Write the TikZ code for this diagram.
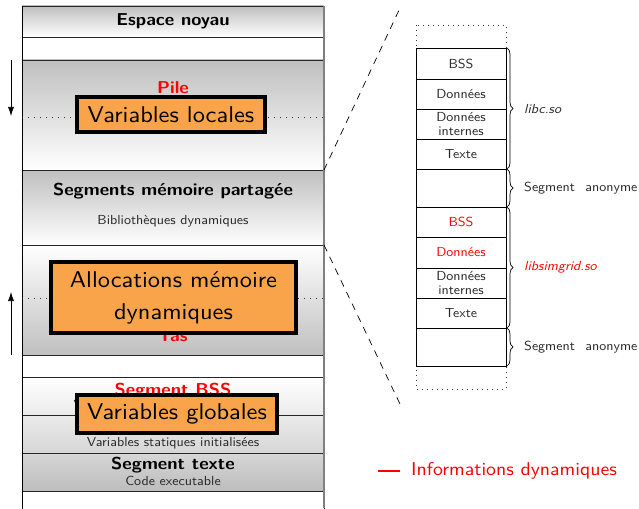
\documentclass[tikz,border=0pt]{standalone}
\usepackage{fontspec}
\usetikzlibrary{decorations.pathreplacing,arrows.meta}
\setmainfont{lmsans10}[Extension=.otf, UprightFont=*-regular, BoldFont=*-bold,
  ItalicFont=*-oblique, BoldItalicFont=*-boldoblique, FakeStretch=1.07]
\definecolor{memorange}{RGB}{249,164,74}
\newcommand{\fsbig}{\fontsize{17.2}{20}\selectfont\bfseries}
\newcommand{\fssmall}{\fontsize{13.1}{14}\selectfont}
\newcommand{\fsvar}{\fontsize{22.8}{32}\selectfont}
\newcommand{\fslegend}{\fontsize{18.5}{21}\selectfont}
\begin{document}
\begin{tikzpicture}[x=1pt,y=-1pt,
  seg/.style={draw=black!85, line width=0.8pt, minimum width=302pt, inner sep=0pt,
    outer sep=0pt, anchor=north west},
  bigtxt/.style={font=\fsbig, inner sep=0pt},
  smalltxt/.style={font=\fssmall, text=black!85, inner sep=0pt},
  orangebox/.style={draw=black, line width=3.3pt, fill=memorange, inner sep=0pt,
    font=\fsvar, align=center},
  rbox/.style={draw=black, line width=0.7pt, minimum width=90pt, inner sep=0pt,
    outer sep=0pt, anchor=north west, font=\fssmall, text=black!85, align=center},
  dotline/.style={black!80, line width=0.8pt, dash pattern=on 0.8pt off 5.2pt},
  zoomline/.style={black, line width=0.7pt, dash pattern=on 7pt off 6pt},
  bracedeco/.style={decorate, decoration={brace, amplitude=6pt}, line width=0.7pt},
  growarrow/.style={-{Latex[length=9pt,width=6pt]}, line width=0.7pt}]
\useasboundingbox (0,0) rectangle (639,508);

% address space, top to bottom
\node[seg, minimum height=31pt, top color=black!25, bottom color=white, font=\fsbig]
  (kernel) at (22,6) {Espace noyau};
\node[seg, minimum height=23pt] (gap1) at (22,37) {};
\node[seg, minimum height=110pt, top color=black!25, middle color=white, bottom color=white]
  (stack) at (22,60) {};
\node[seg, minimum height=75pt, top color=black!25, bottom color=white] (shared) at (22,170) {};
\node[seg, minimum height=110pt, top color=white, middle color=white, bottom color=black!25]
  (heap) at (22,245) {};
\node[seg, minimum height=22pt] (gap2) at (22,355) {};
\node[seg, minimum height=38pt, top color=white, bottom color=black!8] (bss) at (22,377) {};
\node[seg, minimum height=38pt, top color=black!8, bottom color=black!16] (data) at (22,415) {};
\node[seg, minimum height=38pt, top color=black!16, bottom color=black!26] (text) at (22,453) {};
\node[seg, minimum height=22pt] (gap3) at (22,491) {};

% outer sides of the address space
\coordinate (leftbot) at (22,508);
\coordinate (rightbot) at (324,508);
\draw[black, line width=0.8pt] (kernel.north west) -- (leftbot);
\draw[black!50, line width=1.3pt] (kernel.north east) -- (rightbot);

% stack and heap limits
\coordinate (stackL) at (22,117);
\coordinate (stackR) at (324,117);
\coordinate (heapL) at (22,298);
\coordinate (heapR) at (324,298);
\draw[dotline] (stackL) -- (stackR);
\draw[dotline] (heapL) -- (heapR);

% growth directions
\coordinate (stackarrA) at (11,60);
\coordinate (stackarrB) at (11,116);
\coordinate (heaparrA) at (11,355);
\coordinate (heaparrB) at (11,292);
\draw[growarrow] (stackarrA) -- (stackarrB);
\draw[growarrow] (heaparrA) -- (heaparrB);

% segment labels
\node[bigtxt, text=red] (piletxt) at (173,88) {Pile};
\node[bigtxt] (sharedtxt) at (173,191) {Segments mémoire partagée};
\node[smalltxt] (libtxt) at (173,221) {Bibliothèques dynamiques};
\node[bigtxt, text=red] (tastxt) at (173,336) {Tas};
\node[bigtxt, text=red] (bsstxt) at (173,391) {Segment BSS};
\node[smalltxt] (bssdesc) at (173,406) {Variables statiques non initialisées};
\node[bigtxt, text=red] (datatxt) at (173,427) {Segment données};
\node[smalltxt] (datadesc) at (173,443) {Variables statiques initialisées};
\node[bigtxt] (texttxt) at (173,465) {Segment texte};
\node[smalltxt] (textdesc) at (173,481) {Code executable};

% highlighted contents
\node[orangebox, minimum width=188pt, minimum height=35pt] (locals) at (171,114.5) {Variables locales};
\node[orangebox, minimum width=245pt, minimum height=71pt] (dyn) at (173.5,297.5)
  {Allocations mémoire\\dynamiques};
\node[orangebox, minimum width=200pt, minimum height=38pt] (globals) at (177,414) {Variables globales};

% detail of the shared segments
\coordinate (zoomtop) at (400,8);
\coordinate (zoombot) at (400,404);
\draw[zoomline] (shared.north east) -- (zoomtop);
\draw[zoomline] (shared.south east) -- (zoombot);

\coordinate (dettl) at (416,25);
\coordinate (detbr) at (506,389);
\draw[black!80, line width=0.8pt, dash pattern=on 0.8pt off 4.2pt] (dettl) rectangle (detbr);

\node[rbox, minimum height=31pt] (lbss) at (416,48) {BSS};
\node[rbox, minimum height=30pt] (ldata) at (416,79) {Données};
\node[rbox, minimum height=30pt] (lint) at (416,109) {Données\\internes};
\node[rbox, minimum height=30pt] (ltext) at (416,139) {Texte};
\node[rbox, minimum height=38pt] (anon1) at (416,169) {};
\node[rbox, minimum height=30pt, text=red] (sbss) at (416,207) {BSS};
\node[rbox, minimum height=31pt, text=red] (sdata) at (416,237) {Données};
\node[rbox, minimum height=30pt] (sint) at (416,268) {Données\\internes};
\node[rbox, minimum height=30pt] (stext) at (416,298) {Texte};
\node[rbox, minimum height=38pt] (anon2) at (416,328) {};

\draw[bracedeco] ([xshift=1pt]lbss.north east) -- ([xshift=1pt]ltext.south east);
\draw[bracedeco] ([xshift=1pt]anon1.north east) -- ([xshift=1pt]anon1.south east);
\draw[bracedeco] ([xshift=1pt]sbss.north east) -- ([xshift=1pt]stext.south east);
\draw[bracedeco] ([xshift=1pt]anon2.north east) -- ([xshift=1pt]anon2.south east);

\node[anchor=west, font=\fssmall\itshape, text=black!85, inner sep=0pt] (libclbl) at (524,109) {libc.so};
\node[anchor=west, font=\fssmall, text=black!85, inner sep=0pt] (anon1lbl) at (524,188) {Segment\hspace{0.8em}anonyme};
\node[anchor=west, font=\fssmall\itshape, text=red, inner sep=0pt] (simlbl) at (524,267) {libsimgrid.so};
\node[anchor=west, font=\fssmall, text=black!85, inner sep=0pt] (anon2lbl) at (524,347) {Segment\hspace{0.8em}anonyme};

% legend
\coordinate (legA) at (378,471);
\coordinate (legB) at (400,471);
\draw[red, line width=1.6pt] (legA) -- (legB);
\node[anchor=west, font=\fslegend, text=red, inner sep=0pt] (legtxt) at (411,471) {Informations dynamiques};
\end{tikzpicture}
\end{document}
